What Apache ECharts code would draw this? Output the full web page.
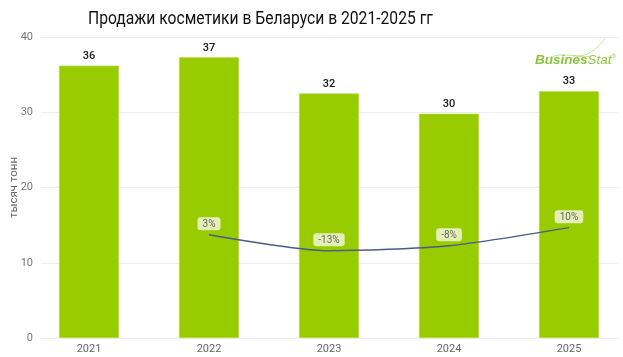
<!DOCTYPE html>
<html><head><meta charset="utf-8">
<script src="https://cdn.jsdelivr.net/npm/echarts@6/dist/echarts.min.js"></script>
<style>html,body{margin:0;padding:0;background:#fff}#c{width:623px;height:357px}</style>
</head><body><div id="c"></div>
<script>
const categories = ['2021', '2022', '2023', '2024', '2025'];
const salesValues = [36.2, 37.3, 32.5, 29.8, 32.8];
const salesLabels = ['36', '37', '32', '30', '33'];
const growthValues = [null, 3, -13, -8, 10];
const yTicks = [0, 10, 20, 30, 40];
const titleText = 'Продажи косметики в Беларуси в 2021-2025 гг';

const chart = echarts.init(document.getElementById('c'));
const font = 'Roboto';
chart.setOption({
  animation: false,
  backgroundColor: '#fff',
  grid: [
    {left: 29, right: -6, top: 37, bottom: 19, outerBoundsMode: 'none'},
    {left: 41, right: 5, top: 37, bottom: 19, outerBoundsMode: 'none'}
  ],
  xAxis: [
    {type: 'category', gridIndex: 0, data: categories,
     axisLine: {show: false}, axisTick: {show: false},
     axisLabel: {color: '#666', fontFamily: font, fontSize: 11, margin: 6}},
    {type: 'category', gridIndex: 1, data: categories, show: false}
  ],
  yAxis: [
    {type: 'value', gridIndex: 0, min: 0, max: 40, interval: 10, show: false},
    {type: 'value', gridIndex: 0, min: -100, max: 200, show: false},
    {type: 'value', gridIndex: 1, min: yTicks[0], max: yTicks[yTicks.length - 1], interval: 10,
     name: 'тысяч тонн', nameLocation: 'middle', nameGap: 21, nameMoveOverlap: false,
     nameTextStyle: {color: '#666', fontFamily: font, fontSize: 11.5},
     axisLine: {show: false}, axisTick: {show: false},
     axisLabel: {color: '#777', fontFamily: font, fontSize: 11, margin: 8},
     splitLine: {lineStyle: {color: '#eeeeee', width: 1}}}
  ],
  series: [
    {type: 'bar', xAxisIndex: 0, yAxisIndex: 0, data: salesValues, barWidth: 60,
     itemStyle: {color: '#99cc00', borderColor: '#b5dc4a', borderWidth: 0.6},
     label: {show: true, position: 'top', distance: 4, color: '#1a1a1a', fontFamily: font, fontSize: 11, fontWeight: 500,
       formatter: p => salesLabels[p.dataIndex]}},
    {type: 'line', xAxisIndex: 0, yAxisIndex: 1, data: growthValues, smooth: 0.25,
     symbol: 'circle', symbolSize: 1, showSymbol: true,
     itemStyle: {color: 'rgba(0,0,0,0)'},
     lineStyle: {color: '#4d5a8c', width: 1.5},
     label: {show: true, position: 'top', distance: 4, color: '#666', fontFamily: font, fontSize: 10,
       backgroundColor: '#e3efb5', borderRadius: 3, padding: [2, 5, 1, 5],
       formatter: p => p.value + '%'}}
  ],
  graphic: [
    {type: 'text', x: 88, y: 19, scaleX: 0.87, style: {
      text: titleText, fontFamily: 'Roboto', fontSize: 18, fill: '#111', verticalAlign: 'middle', align: 'left'}},
    {type: 'group', left: 535, top: 36, children: [
      {type: 'bezierCurve', shape: {x1: 14, y1: 20, x2: 56, y2: 18, cpx1: 30, cpy1: 12, cpx2: 46, cpy2: 20},
       style: {stroke: '#b5d97a', lineWidth: 0.8, fill: null}},
      {type: 'bezierCurve', shape: {x1: 40, y1: 17, x2: 72, y2: 0, cpx1: 55, cpy1: 20, cpx2: 66, cpy2: 8},
       style: {stroke: '#b5d97a', lineWidth: 0.8, fill: null}},
      {type: 'text', x: 2, y: 15, style: {
        text: '{a|Busines}{b|Stat}{c|®}',
        rich: {
          a: {fontFamily: 'Liberation Sans', fontSize: 13.5, fontWeight: 'bold', fontStyle: 'italic', fill: '#8cc43c'},
          b: {fontFamily: 'Liberation Sans', fontSize: 13.5, fontStyle: 'italic', fill: '#8cc43c'},
          c: {fontFamily: 'Liberation Sans', fontSize: 6, fill: '#8cc43c', verticalAlign: 'top', padding: [0,0,8,0]}
        }}}
    ]}
  ]
});
</script></body></html>
